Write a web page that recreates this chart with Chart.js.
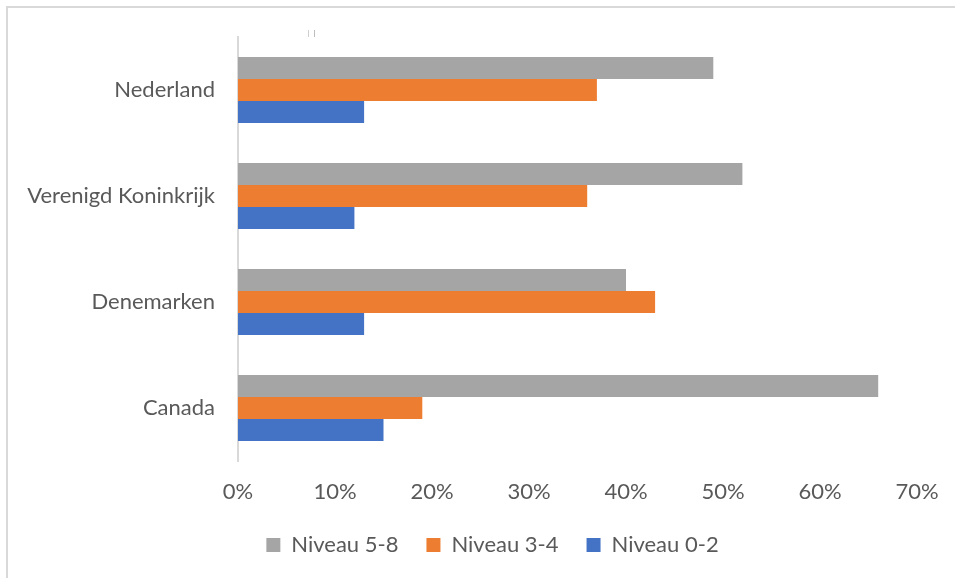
<!DOCTYPE html>
<html lang="nl">
<head>
<meta charset="utf-8">
<title>Niveau per land</title>
<script src="https://cdn.jsdelivr.net/npm/chart.js@4.4.1/dist/chart.umd.min.js"></script>
<style>
  html, body { margin: 0; padding: 0; background: #fff; overflow: hidden; }
  #frame {
    position: absolute; left: 6px; top: 6px; width: 2000px; height: 2000px;
    border-left: 2px solid #d9d9d9; border-top: 2px solid #d9d9d9;
  }
  #wrap { position: absolute; left: 0; top: 0; width: 985px; height: 578px; }
</style>
</head>
<body>
<div id="frame"></div>
<div id="wrap"><canvas id="chart"></canvas></div>
<script>
// Landen en aandelen per niveau (fractie)
const landen = ['Nederland', 'Verenigd Koninkrijk', 'Denemarken', 'Canada'];
const niveau58 = [0.49, 0.52, 0.40, 0.66];
const niveau34 = [0.37, 0.36, 0.43, 0.19];
const niveau02 = [0.13, 0.12, 0.13, 0.15];
const seriesNamen = ['Niveau 5-8', 'Niveau 3-4', 'Niveau 0-2'];
const xTicks = [0, 0.1, 0.2, 0.3, 0.4, 0.5, 0.6, 0.7];

const kleuren = ['#a5a5a5', '#ed7d31', '#4472c4'];
const tekstKleur = '#595959';
const font = { family: 'Lato, "Open Sans", sans-serif', size: 22 };

// kleine streepjes boven de grafiek
const marks = {
  id: 'marks',
  afterDraw(chart) {
    const ctx = chart.ctx;
    ctx.save();
    ctx.lineWidth = 1;
    ctx.strokeStyle = '#d0d0d0';
    ctx.beginPath(); ctx.moveTo(308.5, 30); ctx.lineTo(308.5, 37); ctx.stroke();
    ctx.strokeStyle = '#bdbdbd';
    ctx.beginPath(); ctx.moveTo(314.5, 30); ctx.lineTo(314.5, 37); ctx.stroke();
    ctx.restore();
  }
};

new Chart(document.getElementById('chart'), {
  type: 'bar',
  data: {
    labels: landen,
    datasets: [niveau58, niveau34, niveau02].map((d, i) => ({
      label: seriesNamen[i],
      data: d,
      backgroundColor: kleuren[i],
      borderWidth: 0,
      barPercentage: 1,
      categoryPercentage: 0.623
    }))
  },
  options: {
    indexAxis: 'y',
    responsive: true,
    maintainAspectRatio: false,
    animation: false,
    layout: { padding: { left: 0, top: 37, right: 0, bottom: 12 } },
    plugins: {
      tooltip: { enabled: false },
      legend: {
        position: 'bottom',
        labels: {
          color: tekstKleur,
          font: font,
          boxWidth: 14,
          boxHeight: 14,
          padding: 28
        }
      }
    },
    scales: {
      x: {
        min: 0,
        max: 0.7,
        afterBuildTicks: (scale) => { scale.ticks = xTicks.map(v => ({ value: v })); },
        afterFit: (scale) => { scale.height = 45; scale.paddingRight = 68; },
        grid: { display: false, drawTicks: false },
        border: { display: false },
        ticks: {
          color: tekstKleur,
          font: font,
          padding: 18,
          callback: (v) => Math.round(v * 100) + '%'
        }
      },
      y: {
        afterFit: (scale) => { scale.width = 238; },
        grid: { display: false, drawTicks: false },
        border: { display: true, color: '#d9d9d9', width: 2 },
        ticks: { color: tekstKleur, font: font, padding: 23 }
      }
    }
  },
  plugins: [marks]
});
</script>
</body>
</html>
